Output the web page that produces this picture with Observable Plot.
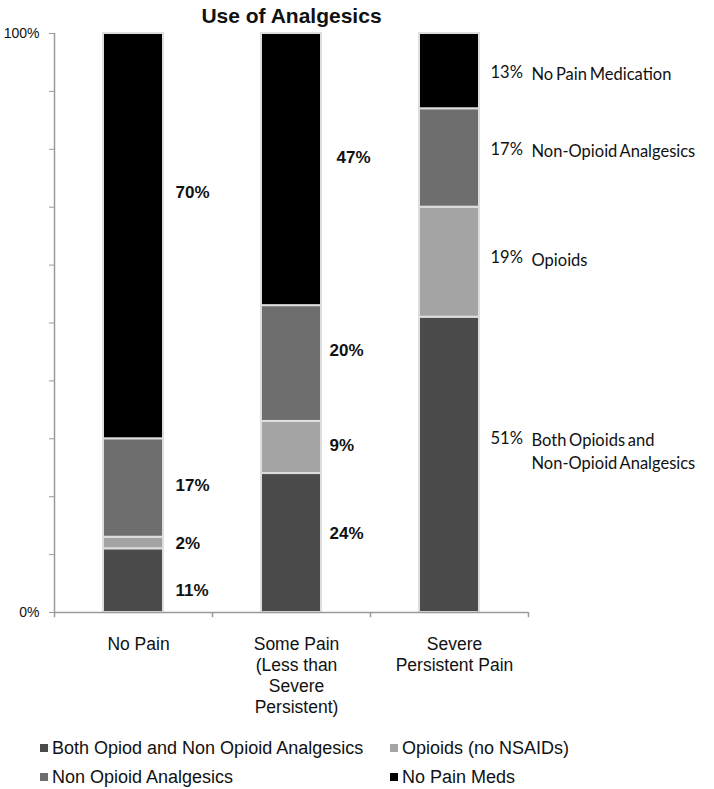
<!DOCTYPE html>
<html><head><meta charset="utf-8">
<script src="https://cdn.jsdelivr.net/npm/d3@7"></script>
<script src="https://cdn.jsdelivr.net/npm/@observablehq/plot@0.6"></script>
<style>
body{margin:0;background:#fff;}
#chart{position:relative;width:714px;height:789px;overflow:hidden;}
.legend{position:absolute;left:0;top:720px;width:714px;height:69px;font-family:"Liberation Sans",Arial,sans-serif;font-size:18px;color:#111;}
.item{position:absolute;display:flex;align-items:center;white-space:nowrap;height:24px;}
.sw{width:8px;height:8px;margin-right:4px;flex:none;}
.sev text{word-spacing:-1.5px;}
</style></head><body><div id="chart"></div>
<script>
// ---- data ----
const title = "Use of Analgesics";
const categories = ["No Pain", "Some Pain (Less than Severe Persistent)", "Severe Persistent Pain"];
const categoryTickLabels = ["No Pain", "Some Pain\n(Less than\nSevere\nPersistent)", "Severe\nPersistent Pain"];
const series = ["Both Opiod and Non Opioid Analgesics", "Opioids (no NSAIDs)", "Non Opioid Analgesics", "No Pain Meds"];
const bothValues = [11, 24, 51];
const opioidValues = [2, 9, 19];
const nonOpioidValues = [17, 20, 17];
const noMedsValues = [70, 47, 13];
const severeNames = ["Both Opioids and\nNon-Opioid Analgesics", "Opioids", "Non-Opioid Analgesics", "No Pain Medication"];
const yTickValues = [0, 10, 20, 30, 40, 50, 60, 70, 80, 90, 100];
const yTickLabels = ["0%", "", "", "", "", "", "", "", "", "", "100%"];

// ---- style ----
const seriesColors = ["#4b4b4b", "#a4a4a4", "#6e6e6e", "#000000"];
const W = 714, H = 720, mL = 54, mR = 186, mT = 33, mB = 108;
const step = (W - mL - mR) / categories.length;
const bw = step * 0.38;
// per-label vertical nudges (px) and horizontal gaps from the bar edge (px)
const labelDy = [[10, 1, -2, -44], [-9, -2, -13, -12], [-26, -4, -8, 2]];
const nameDy = [-15, -4, -8, 2];
const labelGap = [[12, 12, 12, 12], [8, 8, 8, 15], [11, 11, 11, 11]];
const nameGap = 52;

const seriesValues = [bothValues, opioidValues, nonOpioidValues, noMedsValues];
const rows = [];
categories.forEach((c, i) => {
  let cum = 0;
  series.forEach((s, j) => {
    const v = seriesValues[j][i];
    rows.push({category: c, series: s, value: v, mid: cum + v / 2, ci: i, si: j});
    cum += v;
  });
});

const labelMarks = rows.map(r => Plot.text([r], {
  x: "category", y: "mid", text: d => d.value + "%",
  dx: bw / 2 + labelGap[r.ci][r.si], dy: labelDy[r.ci][r.si],
  textAnchor: "start", lineAnchor: "middle",
  fontSize: r.ci < 2 ? 17 : 16.5,
  fontWeight: r.ci < 2 ? "bold" : "normal",
  fontFamily: r.ci < 2 ? "Liberation Sans, Arial, sans-serif" : "Lato, sans-serif",
  fill: "#111"
}));
const nameMarks = rows.filter(r => r.ci === 2).map(r => Plot.text([r], {
  x: "category", y: "mid", text: d => severeNames[d.si],
  dx: bw / 2 + nameGap, dy: nameDy[r.si],
  textAnchor: "start", lineAnchor: "middle", lineHeight: 1.38,
  fontSize: 16.5, fontFamily: "Lato, sans-serif", fill: "#111", className: "sev"
}));

const plot = Plot.plot({
  width: W, height: H,
  marginLeft: mL, marginRight: mR, marginTop: mT, marginBottom: mB,
  style: {fontFamily: "Liberation Sans, Arial, sans-serif", background: "white", overflow: "visible"},
  x: {type: "band", domain: categories, paddingInner: 0.62, paddingOuter: 0.31, label: null},
  y: {domain: [0, 100], label: null},
  color: {domain: series, range: seriesColors},
  marks: [
    Plot.barY(rows, {x: "category", y: "value", fill: "series", stroke: "#dedede", strokeWidth: 2}),
    Plot.ruleY([0], {stroke: "#9a9a9a", strokeWidth: 1.5}),
    Plot.ruleX([categories[0]], {x: d => d, dx: -step / 2, y1: 0, y2: 100, stroke: "#9a9a9a", strokeWidth: 1.5}),
    Plot.ruleX(categories, {x: d => d, dx: -step / 2, y1: 0, y2: -0.9, stroke: "#9a9a9a", strokeWidth: 1.5}),
    Plot.ruleX([categories[categories.length - 1]], {x: d => d, dx: step / 2, y1: 0, y2: -0.9, stroke: "#9a9a9a", strokeWidth: 1.5}),
    Plot.axisY({ticks: yTickValues, tickFormat: d => yTickLabels[yTickValues.indexOf(d)], tickSize: 5, tickPadding: 10,
      fontSize: 14, stroke: "#9a9a9a", fill: "#111", label: null}),
    Plot.axisX({tickSize: 0, tickPadding: 23, fontSize: 17.5, lineHeight: 1.2, fill: "#111",
      tickFormat: d => categoryTickLabels[categories.indexOf(d)], label: null, dx: 5}),
    ...labelMarks,
    ...nameMarks,
    Plot.text([title], {text: d => d, frameAnchor: "top", dy: -17, lineAnchor: "middle",
      fontSize: 21, fontWeight: "bold", fill: "#111"})
  ]
});
const chart = document.getElementById("chart");
chart.appendChild(plot);

// ---- legend ----
const legend = document.createElement("div");
legend.className = "legend";
const legendPos = [[40, 16], [390, 16], [40, 45], [390, 45]];
series.forEach((s, j) => {
  const it = document.createElement("div");
  it.className = "item";
  it.style.left = legendPos[j][0] + "px";
  it.style.top = legendPos[j][1] + "px";
  const sw = document.createElement("span");
  sw.className = "sw";
  sw.style.background = seriesColors[j];
  const tx = document.createElement("span");
  tx.textContent = s;
  it.appendChild(sw); it.appendChild(tx);
  legend.appendChild(it);
});
chart.appendChild(legend);
</script></body></html>
